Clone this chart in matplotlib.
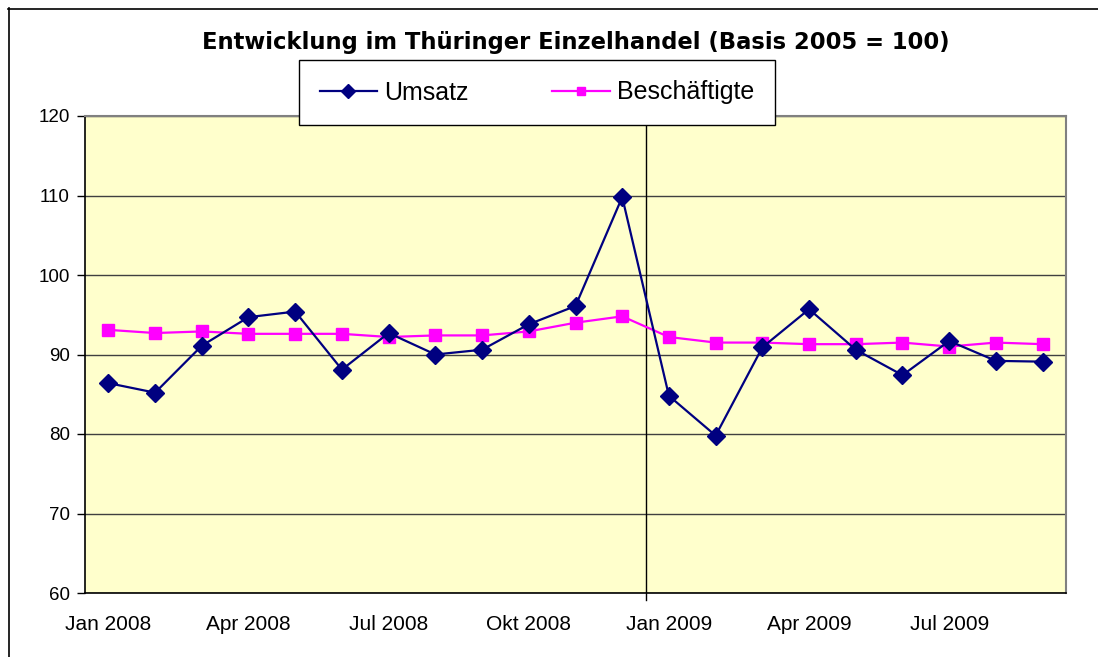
import matplotlib
matplotlib.use("Agg")
import matplotlib.pyplot as plt
from matplotlib.lines import Line2D

# data
months = ["Jan 2008", "Feb 2008", "Mrz 2008", "Apr 2008", "Mai 2008", "Jun 2008",
          "Jul 2008", "Aug 2008", "Sep 2008", "Okt 2008", "Nov 2008", "Dez 2008",
          "Jan 2009", "Feb 2009", "Mrz 2009", "Apr 2009", "Mai 2009", "Jun 2009",
          "Jul 2009", "Aug 2009", "Sep 2009"]
umsatz = [86.4, 85.2, 91.1, 94.7, 95.4, 88.1, 92.7, 90.0, 90.6, 93.8, 96.1, 109.8,
          84.8, 79.8, 90.9, 95.7, 90.6, 87.4, 91.7, 89.2, 89.1]
beschaeftigte = [93.1, 92.7, 92.9, 92.6, 92.6, 92.6, 92.2, 92.4, 92.4, 92.9, 94.0, 94.8,
                 92.2, 91.5, 91.5, 91.3, 91.3, 91.5, 91.0, 91.5, 91.3]
yticks = [60, 70, 80, 90, 100, 110, 120]

W, H = 1098, 657
plt.rcParams['font.family'] = ['Liberation Sans', 'DejaVu Sans']
fig = plt.figure(figsize=(W / 100, H / 100), dpi=100)

def fx(px): return px / W
def fy(py): return 1 - py / H

# outer chart border (only left and top visible)
fig.add_artist(Line2D([fx(8.5), fx(8.5)], [fy(8), 0], color="black", lw=1.2, transform=fig.transFigure))
fig.add_artist(Line2D([fx(8), 1], [fy(8.5), fy(8.5)], color="black", lw=1.2, transform=fig.transFigure))

ax = fig.add_axes([fx(85), fy(593), fx(1066) - fx(85), fy(116) - fy(593)])
ax.set_facecolor("#FFFFCC")
x = list(range(len(months)))
ax.plot(x, umsatz, color="#000080", lw=1.6, marker="D", ms=9, label="Umsatz", zorder=4)
ax.plot(x, beschaeftigte, color="#FF00FF", lw=1.6, marker="s", ms=8, label="Beschäftigte", zorder=3)

ax.set_xlim(-0.5, len(months) - 0.5)
ax.set_ylim(60, 120)
ax.set_yticks(yticks)
ax.tick_params(axis="y", direction="out", length=6, width=1, labelsize=13.5, pad=5)
ax.set_xticks(x[::3])
ax.set_xticklabels(months[::3])
ax.tick_params(axis="x", length=0, labelsize=15, pad=16)
ax.grid(axis="y", color="#404040", lw=1)
ax.set_axisbelow(True)
ax.axvline(11.5, color="black", lw=1, zorder=2)
ax.plot([11.5, 11.5], [60, 59.1], color="black", lw=1, clip_on=False)
for s in ["top", "right"]:
    ax.spines[s].set_color("#808080")
    ax.spines[s].set_linewidth(1.5)
for s in ["left", "bottom"]:
    ax.spines[s].set_color("black")
    ax.spines[s].set_linewidth(1.2)

fig.text(fx(576), fy(42), "Entwicklung im Thüringer Einzelhandel (Basis 2005 = 100)",
         ha="center", va="center", fontsize=16.3, fontweight="bold",
         family=["DejaVu Sans"])

leg = fig.legend(loc="center", bbox_to_anchor=(fx(299), fy(125), fx(775) - fx(299), fy(60) - fy(125)),
                 ncol=2, mode="expand", fontsize=18, frameon=True, fancybox=False,
                 edgecolor="black", handlelength=2.3, handletextpad=0.3, columnspacing=2.5,
                 borderpad=0.82, borderaxespad=0, markerscale=0.75)
leg.get_frame().set_linewidth(1)
leg.get_frame().set_alpha(1)

fig.savefig("out.png", dpi=100)
